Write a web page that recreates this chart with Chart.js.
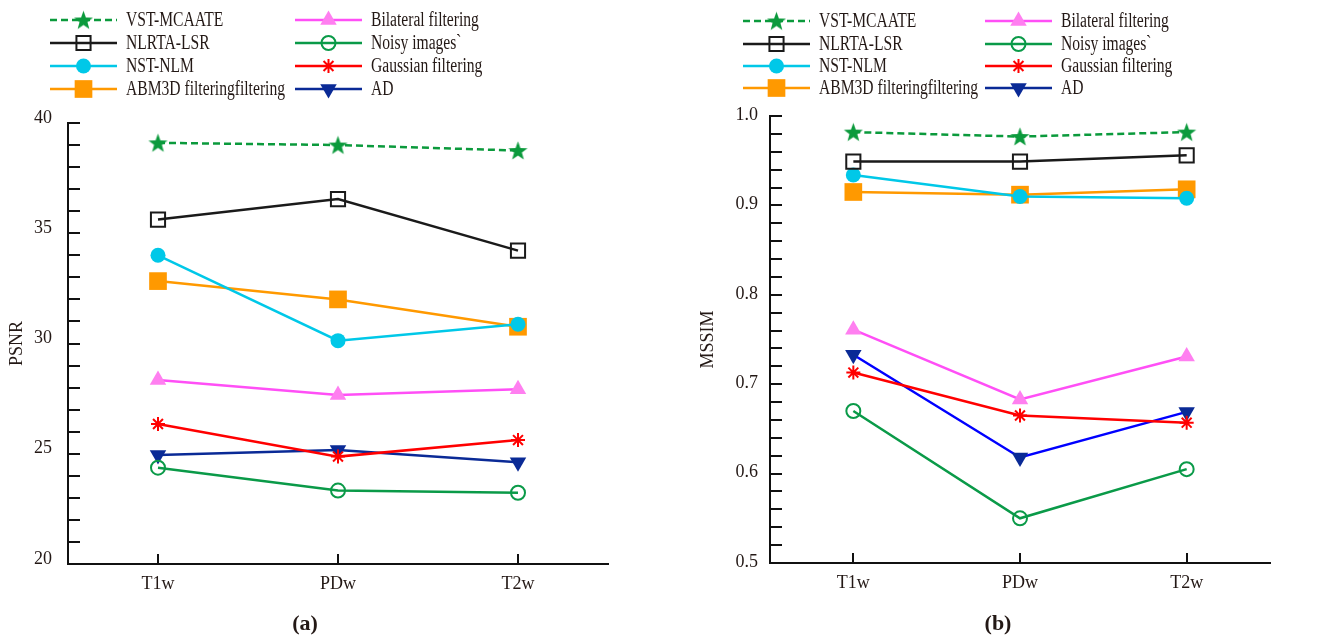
<!DOCTYPE html>
<html><head><meta charset="utf-8">
<script src="https://cdn.jsdelivr.net/npm/chart.js@4"></script>
<style>
html,body{margin:0;padding:0;background:#fff;width:1328px;height:643px;overflow:hidden}
#a{position:absolute;left:0;top:0;width:610px;height:643px}
#b{position:absolute;left:668px;top:0;width:660px;height:643px}
</style></head><body>
<div id="a"><canvas id="ca"></canvas></div>
<div id="b"><canvas id="cb"></canvas></div>
<script>
// ---------- data ----------
const categories = ['T1w', 'PDw', 'T2w'];
const seriesNames = ['VST-MCAATE', 'NLRTA-LSR', 'NST-NLM', 'ABM3D filteringfiltering',
                     'Bilateral filtering', 'Noisy images`', 'Gaussian filtering', 'AD'];
// (a) PSNR
const psnrVST       = [39.10, 39.00, 38.75];
const psnrNLRTA     = [35.62, 36.55, 34.21];
const psnrNST       = [34.00, 30.13, 30.87];
const psnrABM3D     = [32.83, 32.00, 30.76];
const psnrBilateral = [28.34, 27.66, 27.92];
const psnrNoisy     = [24.37, 23.33, 23.23];
const psnrGaussian  = [26.35, 24.87, 25.62];
const psnrAD        = [24.94, 25.17, 24.61];
// (b) MSSIM
const mssimVST       = [0.982, 0.977, 0.982];
const mssimNLRTA     = [0.949, 0.949, 0.956];
const mssimNST       = [0.934, 0.910, 0.908];
const mssimABM3D     = [0.915, 0.912, 0.918];
const mssimBilateral = [0.761, 0.683, 0.731];
const mssimNoisy     = [0.670, 0.550, 0.605];
const mssimGaussian  = [0.713, 0.665, 0.657];
const mssimAD        = [0.733, 0.618, 0.669];
// tick labels
const psnrTickLabels  = [20, 25, 30, 35, 40];
const mssimTickLabels = [0.5, 0.6, 0.7, 0.8, 0.9, 1.0];

// ---------- styles ----------
const FONT = "'Liberation Serif','Times New Roman',serif";
const TEXT = '#231815';

function makeStar(color){
  const c = document.createElement('canvas');
  c.width = 21; c.height = 21;
  const g = c.getContext('2d');
  g.fillStyle = color; g.beginPath();
  for (let k = 0; k < 10; k++){
    const r = k % 2 ? 4.1 : 10;
    const a = -Math.PI/2 + k*Math.PI/5;
    const px = 10.5 + r*Math.cos(a), py = 11.3 + r*Math.sin(a);
    k ? g.lineTo(px, py) : g.moveTo(px, py);
  }
  g.closePath(); g.fill();
  return c;
}
const starImg = makeStar('#0b9a3c');

const styles = [
  {color:'#0b9a3c', dash:[7,4], bw:2.5, ps:starImg, r:9, fill:'#0b9a3c', pbw:0},
  {color:'#1a1a1a', bw:2.5, ps:'rect', r:10, fill:'rgba(0,0,0,0)', pb:'#1a1a1a', pbw:2},
  {color:'#00c8e8', bw:2.5, ps:'circle', r:7.5, fill:'#00c8e8', pbw:0},
  {color:'#ff9900', bw:2.5, ps:'rect', r:12.5, fill:'#ff9900', pbw:0},
  {color:'#ff4ff6', bw:2.5, ps:'triangle', r:9.5, fill:'#ff7ff0', pbw:0},
  {color:'#0a9a48', bw:2.5, ps:'circle', r:7, fill:'rgba(0,0,0,0)', pb:'#0a9a48', pbw:2},
  {color:'#ff0000', bw:2.5, ps:'star', r:7, fill:'#ff0000', pb:'#ff0000', pbw:2},
  {color:'#0a2a96', bw:2.5, ps:'triangle', rot:180, r:9.5, fill:'#0a2a96', pbw:0}
];

function buildDatasets(seriesList, overrides){
  return seriesList.map((vals, i) => {
    const s = Object.assign({}, styles[i], (overrides||{})[i] || {});
    return {
      label: seriesNames[i], data: vals,
      borderColor: s.color, borderWidth: s.bw, borderDash: s.dash || [],
      legendLineColor: s.legendColor || s.color,
      pointStyle: s.ps, pointRadius: s.r, pointHoverRadius: s.r,
      pointRotation: s.rot || 0,
      pointBackgroundColor: s.fill, pointBorderColor: s.pb || s.fill,
      pointBorderWidth: s.pbw, fill: false, tension: 0, clip: false
    };
  });
}

// ---------- plugins ----------
const inwardTicks = {
  id: 'inwardTicks',
  afterDraw(chart, args, o){
    const {ctx, chartArea: a, scales: {x, y}} = chart;
    ctx.save(); ctx.strokeStyle = '#111'; ctx.lineWidth = 2; ctx.beginPath();
    y.ticks.forEach(t => { const p = Math.round(y.getPixelForValue(t.value)); ctx.moveTo(a.left, p); ctx.lineTo(a.left + o.yLen, p); });
    x.ticks.forEach((t, i) => { const p = Math.round(x.getPixelForTick(i)); ctx.moveTo(p, a.bottom); ctx.lineTo(p, a.bottom - o.xLen); });
    ctx.stroke(); ctx.restore();
  }
};
const sideLegend = {
  id: 'sideLegend',
  afterDraw(chart, args, o){
    const ctx = chart.ctx;
    chart.data.datasets.forEach((ds, i) => {
      const col = Math.floor(i / 4), row = i % 4;
      const x0 = o.colX[col], y = o.rowY[row];
      ctx.save();
      ctx.strokeStyle = ds.legendLineColor; ctx.lineWidth = ds.borderWidth; ctx.setLineDash(ds.borderDash || []);
      ctx.beginPath(); ctx.moveTo(x0, y); ctx.lineTo(x0 + o.lineLen, y); ctx.stroke();
      ctx.setLineDash([]);
      ctx.fillStyle = ds.pointBackgroundColor; ctx.strokeStyle = ds.pointBorderColor; ctx.lineWidth = ds.pointBorderWidth;
      Chart.helpers.drawPoint(ctx, {pointStyle: ds.pointStyle, radius: ds.pointRadius, rotation: ds.pointRotation, borderWidth: ds.pointBorderWidth}, x0 + o.lineLen/2, y);
      ctx.fillStyle = TEXT; ctx.font = o.font; ctx.textBaseline = 'middle'; ctx.textAlign = 'left';
      ctx.translate(x0 + o.lineLen + o.gap, y + 1); ctx.scale(o.sx, 1); ctx.fillText(ds.label, 0, 0);
      ctx.restore();
    });
  }
};
const caption = {
  id: 'caption',
  afterDraw(chart, args, o){
    const ctx = chart.ctx;
    ctx.save(); ctx.font = 'bold 22px ' + FONT; ctx.fillStyle = TEXT;
    ctx.textAlign = 'center'; ctx.textBaseline = 'middle';
    ctx.fillText(o.text, chart.width / 2, o.y); ctx.restore();
  }
};

function makeChart(id, c){
  return new Chart(document.getElementById(id), {
    type: 'line',
    data: {labels: categories, datasets: c.datasets},
    options: {
      responsive: true, maintainAspectRatio: false, animation: false, devicePixelRatio: 1,
      layout: {autoPadding: false, padding: {left: 0, right: c.padRight, top: c.padTop, bottom: c.padBottom}},
      plugins: {
        legend: {display: false}, tooltip: {enabled: false},
        inwardTicks: {xLen: 10, yLen: 12},
        sideLegend: {colX: c.colX, rowY: c.rowY, lineLen: 67, gap: 9, font: '20px ' + FONT, sx: 0.78},
        caption: {text: c.caption, y: 624}
      },
      scales: {
        x: {
          offset: true, grid: {display: false, drawTicks: false}, border: {color: '#111', width: 2},
          ticks: {font: {family: FONT, size: 18}, color: TEXT, padding: 9},
          afterFit(s){ s.height = 45; s.paddingLeft = 0; s.paddingRight = 0; }
        },
        y: {
          min: c.min, max: c.max, grid: {display: false, drawTicks: false}, border: {color: '#111', width: 2},
          ticks: {
            stepSize: c.step, autoSkip: false, font: {family: FONT, size: 18}, color: TEXT,
            padding: c.labelPad, labelOffset: c.labelOffset,
            callback: v => { const t = c.tickLabels.find(t => Math.abs(t - v) < 1e-6); return t === undefined ? '' : c.fmt(t); }
          },
          title: {display: true, text: c.title, font: {family: FONT, size: 18}, color: TEXT, padding: {top: c.titlePad, bottom: 0}},
          afterFit(s){ s.width = c.yWidth; }
        }
      }
    },
    plugins: [inwardTicks, sideLegend, caption]
  });
}

makeChart('ca', {
  datasets: buildDatasets([psnrVST, psnrNLRTA, psnrNST, psnrABM3D, psnrBilateral, psnrNoisy, psnrGaussian, psnrAD]),
  min: 20, max: 40, step: 1, tickLabels: psnrTickLabels, fmt: t => String(t),
  title: 'PSNR', titlePad: 6, labelPad: 16, labelOffset: -5, yWidth: 68,
  padRight: 2, padTop: 123, padBottom: 34,
  colX: [50, 295], rowY: [20, 43, 66, 89], caption: '(a)'
});
makeChart('cb', {
  datasets: buildDatasets([mssimVST, mssimNLRTA, mssimNST, mssimABM3D, mssimBilateral, mssimNoisy, mssimGaussian, mssimAD],
                          {7: {color: '#0000ff', legendColor: '#0a2a96'}}),
  min: 0.5, max: 1.0, step: 0.02, tickLabels: mssimTickLabels, fmt: t => t.toFixed(1),
  title: 'MSSIM', titlePad: 29, labelPad: 12, labelOffset: -1, yWidth: 102,
  padRight: 58, padTop: 116, padBottom: 35,
  colX: [75, 317], rowY: [21, 44, 66, 88], caption: '(b)'
});
</script>
</body></html>
